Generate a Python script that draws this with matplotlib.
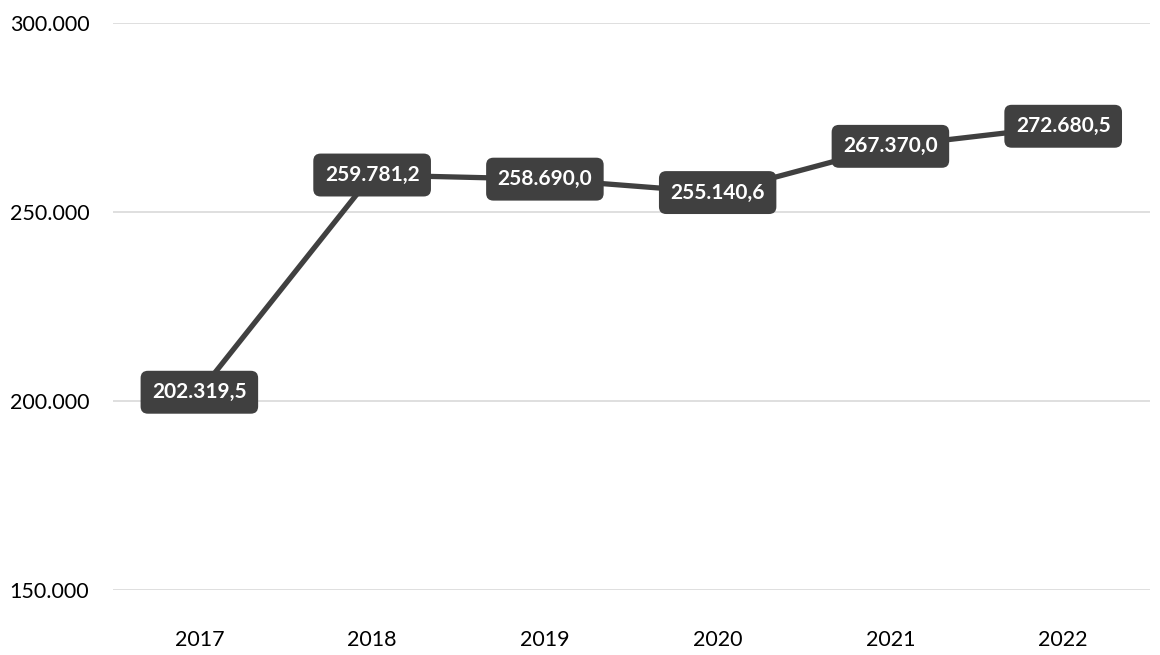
import matplotlib
matplotlib.use("Agg")
import matplotlib.pyplot as plt
from matplotlib.ticker import FuncFormatter

plt.rcParams['font.family'] = ['Lato', 'DejaVu Sans']

years = ["2017", "2018", "2019", "2020", "2021", "2022"]
values = [202319.5, 259781.2, 258690.0, 255140.6, 267370.0, 272680.5]
yticks = [150000, 200000, 250000, 300000]


def de_fmt(v, dec=0):
    s = f"{v:,.{dec}f}"
    return s.replace(",", "X").replace(".", ",").replace("X", ".")


fig = plt.figure(figsize=(11.6, 6.55), dpi=100)
ax = fig.add_axes([0.0974, 0.0992, 0.8936, 0.8657])

xs = list(range(len(years)))
ax.plot(xs, values, color="#404040", lw=3.8, solid_capstyle="round", zorder=3)

for x, v in zip(xs, values):
    ax.text(x, v, de_fmt(v, 1), ha="center", va="center", color="white",
            fontsize=15, fontweight="bold", zorder=4,
            bbox=dict(boxstyle="round,pad=0.55,rounding_size=0.35",
                      fc="#404040", ec="none"))

ax.set_xlim(-0.5, len(years) - 0.5)
ax.set_ylim(150000, 300000)
ax.set_yticks(yticks)
ax.yaxis.set_major_formatter(FuncFormatter(lambda v, p: de_fmt(v)))
ax.set_xticks(xs)
ax.set_xticklabels(years)
ax.grid(axis="y", color="#d9d9d9", lw=1.2)
ax.set_axisbelow(True)
for s in ax.spines.values():
    s.set_visible(False)
ax.tick_params(length=0, labelsize=15.5, colors="#000000")
ax.tick_params(axis="y", pad=17)
ax.tick_params(axis="x", pad=29)

fig.savefig("out.png", dpi=100)
